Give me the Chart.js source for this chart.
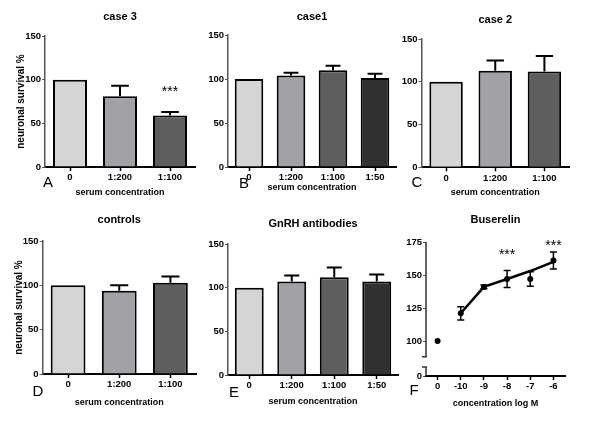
<!DOCTYPE html>
<html>
<head>
<meta charset="utf-8">
<script src="https://cdn.jsdelivr.net/npm/chart.js@4.4.1/dist/chart.umd.min.js"></script>
<style>
    html, body { margin: 0; padding: 0; background: #fff; }
    #fig { position: relative; width: 600px; height: 428px; overflow: hidden; }
    #fig canvas { position: absolute; }
</style>
</head>
<body>
<div id="fig">
    <canvas id="panelA"></canvas>
    <canvas id="panelB"></canvas>
    <canvas id="panelC"></canvas>
    <canvas id="panelD"></canvas>
    <canvas id="panelE"></canvas>
    <canvas id="panelF"></canvas>
</div>
<script>
// A - case 3
const caseThreeLabels = ["0", "1:200", "1:100"];
const caseThreeMeans = [100, 81, 59];
const caseThreeSem = [0, 12, 4];
const caseThreeStars = ["", "", "***"];

// B - case1
const caseOneLabels = ["0", "1:200", "1:100", "1:50"];
const caseOneMeans = [100, 104, 110, 101];
const caseOneSem = [0, 3, 5, 5];

// C - case 2
const caseTwoLabels = ["0", "1:200", "1:100"];
const caseTwoMeans = [100, 113, 112];
const caseTwoSem = [0, 12, 18];

// D - controls
const controlLabels = ["0", "1:200", "1:100"];
const controlMeans = [100, 94, 103];
const controlSem = [0, 6, 7];

// E - GnRH antibodies
const gnrhLabels = ["0", "1:200", "1:100", "1:50"];
const gnrhMeans = [100, 107, 112, 107];
const gnrhSem = [0, 7, 11, 8];

// F - Buserelin
const buserelinLabels = ["0", "-10", "-9", "-8", "-7", "-6"];
const buserelinMeans = [100, 121, 141, 147, 147, 161];
const buserelinSem = [0, 5, 1.5, 6.5, 5.5, 6.5];
const buserelinFit = [null, 121, 141, 147, 153, 160];
const buserelinStars = ["", "", "", "***", "", "***"];
const buserelinTicks = [0, 100, 125, 150, 175];

const barColors = ["#d5d5d5", "#a2a2a6", "#5e5e5e", "#303030"];
const plainFont = "'Liberation Sans', Arial, sans-serif";
const titleSize = 11;
const smallSize = 9.5;

const placeCanvas = (id, box) => {
    let canvas = document.getElementById(id);
    canvas.width = box.w;
    canvas.height = box.h;
    canvas.style.left = box.x + "px";
    canvas.style.top = box.y + "px";
    return canvas.getContext("2d");
};

// options that pin the chart area where the figure has it
const frameOptions = (p) => {
    const left = p.area.left - p.box.x;
    const right = p.area.right - p.box.x;
    const top = p.area.top - p.box.y;
    const bottom = p.area.bottom - p.box.y;
    const titleMid = p.titleY - p.box.y;
    const xTitleMid = p.xTitleY - p.box.y;
    const halfTitle = titleSize * 0.6;
    return {
        responsive: false,
        animation: false,
        events: [],
        layout: { padding: { left: 0, top: 0, right: p.box.w - right, bottom: 0 } },
        plugins: {
            legend: { display: false },
            tooltip: { enabled: false },
            title: {
                display: true,
                fullSize: false,
                text: p.title,
                color: "#000",
                font: { family: plainFont, size: titleSize, weight: "bold", lineHeight: 1.2 },
                padding: { top: titleMid - halfTitle, bottom: top - titleMid - halfTitle },
            },
        },
        scales: {
            x: {
                offset: true,
                afterFit: (s) => { s.height = p.box.h - bottom; },
                border: { color: "#000", width: 2 },
                grid: { offset: false, drawOnChartArea: false, color: "#000", tickLength: 4, tickWidth: 1.5 },
                ticks: {
                    color: "#000", padding: 1, autoSkip: false, maxRotation: 0,
                    font: { family: plainFont, size: smallSize, weight: "bold", lineHeight: 1.2 },
                },
                title: {
                    display: true,
                    text: p.xTitle,
                    color: "#000",
                    font: { family: plainFont, size: 9, weight: "bold", lineHeight: 1.2 },
                    padding: { top: 0, bottom: p.box.h - xTitleMid - 9 * 0.6 },
                },
            },
            y: {
                afterFit: (s) => { s.width = left; },
                border: { color: "#555", width: 1.5 },
                grid: { drawOnChartArea: false, color: "#555", tickLength: 3 },
                ticks: {
                    color: "#000", padding: 1,
                    font: { family: plainFont, size: smallSize, weight: "bold", lineHeight: 1.2 },
                },
                title: p.yTitle ? {
                    display: true,
                    text: p.yTitle,
                    color: "#000",
                    font: { family: plainFont, size: 10, weight: "bold", lineHeight: 1.2 },
                    padding: { top: p.yTitleX - p.box.x - 6, bottom: 0 },
                } : { display: false },
            },
        },
    };
};

const drawLetter = (chart, p) => {
    let ctx = chart.ctx;
    ctx.save();
    ctx.fillStyle = "#000";
    ctx.font = "15px " + plainFont;
    ctx.textAlign = "center";
    ctx.textBaseline = "middle";
    ctx.fillText(p.letter, p.letterAt[0] - p.box.x, p.letterAt[1] - p.box.y);
    ctx.restore();
};

const drawStars = (chart, points, tops, stars, gaps) => {
    let ctx = chart.ctx;
    ctx.save();
    ctx.fillStyle = "#000";
    ctx.font = "14px " + plainFont;
    ctx.textAlign = "center";
    ctx.textBaseline = "middle";
    stars.forEach((s, i) => {
        if (!s) return;
        const y = chart.scales.y.getPixelForValue(tops[i]) - gaps[i];
        ctx.fillText(s, points[i].x, y + 4);
    });
    ctx.restore();
};

const renderBarPanel = (p) => {
    let ctx = placeCanvas(p.id, p.box);
    let options = frameOptions(p);
    options.scales.y.min = 0;
    options.scales.y.max = 150;
    options.scales.y.ticks.stepSize = 50;

    let extras = {
        id: "extras" + p.id,
        afterDatasetsDraw: (chart) => {
            let c = chart.ctx;
            let yScale = chart.scales.y;
            let bars = chart.getDatasetMeta(0).data;
            c.save();
            c.strokeStyle = "#000";
            c.lineWidth = 2;
            bars.forEach((bar, i) => {
                if (!p.sem[i]) return;
                const yTop = yScale.getPixelForValue(p.means[i] + p.sem[i]);
                const half = bar.width * 0.26;
                c.beginPath();
                c.moveTo(bar.x, bar.y);
                c.lineTo(bar.x, yTop);
                c.moveTo(bar.x - half, yTop);
                c.lineTo(bar.x + half, yTop);
                c.stroke();
            });
            c.restore();
            if (p.stars) {
                let tops = p.means.map((m, i) => m + p.sem[i]);
                drawStars(chart, bars, tops, p.stars, p.starGaps);
            }
        },
        afterDraw: (chart) => drawLetter(chart, p),
    };

    let myChart = new Chart(ctx, {
        type: "bar",
        data: {
            labels: p.labels,
            datasets: [
                {
                    data: p.means,
                    backgroundColor: barColors.slice(0, p.labels.length),
                    borderColor: "#000",
                    borderWidth: 2,
                    barPercentage: 0.68,
                    categoryPercentage: 1,
                },
            ],
        },
        options: options,
        plugins: [extras],
    });
};

const renderDosePanel = (p) => {
    let ctx = placeCanvas(p.id, p.box);
    let options = frameOptions(p);
    const floor = p.axisFloor;
    options.scales.y.min = floor;
    options.scales.y.max = 175;
    options.scales.y.border = { display: false };
    options.scales.y.afterBuildTicks = (s) => {
        s.ticks = buserelinTicks.map((v) => ({ value: v === 0 ? floor : v }));
    };
    options.scales.y.ticks.callback = (v) => (v === floor ? "0" : String(v));

    let extras = {
        id: "extras" + p.id,
        beforeDatasetsDraw: (chart) => {
            // broken y axis
            let c = chart.ctx;
            let yScale = chart.scales.y;
            const x = chart.chartArea.left;
            const breakHigh = yScale.getPixelForValue(88);
            const breakLow = yScale.getPixelForValue(80.3);
            c.save();
            c.strokeStyle = "#333";
            c.lineWidth = 1.5;
            c.beginPath();
            c.moveTo(x, yScale.getPixelForValue(175));
            c.lineTo(x, breakHigh);
            c.moveTo(x - 4, breakHigh);
            c.lineTo(x + 1, breakHigh);
            c.moveTo(x - 4, breakLow);
            c.lineTo(x + 1, breakLow);
            c.moveTo(x, breakLow);
            c.lineTo(x, chart.chartArea.bottom);
            c.stroke();
            c.restore();
        },
        afterDatasetsDraw: (chart) => {
            let c = chart.ctx;
            let yScale = chart.scales.y;
            let pts = chart.getDatasetMeta(1).data;
            c.save();
            c.strokeStyle = "#000";
            c.lineWidth = 1.5;
            pts.forEach((pt, i) => {
                if (!p.sem[i]) return;
                const yHi = yScale.getPixelForValue(p.means[i] + p.sem[i]);
                const yLo = yScale.getPixelForValue(p.means[i] - p.sem[i]);
                c.beginPath();
                c.moveTo(pt.x, yHi);
                c.lineTo(pt.x, yLo);
                c.moveTo(pt.x - 3.5, yHi);
                c.lineTo(pt.x + 3.5, yHi);
                c.moveTo(pt.x - 3.5, yLo);
                c.lineTo(pt.x + 3.5, yLo);
                c.stroke();
            });
            c.restore();
            let tops = p.means.map((m, i) => m + p.sem[i]);
            drawStars(chart, pts, tops, p.stars, p.starGaps);
        },
        afterDraw: (chart) => drawLetter(chart, p),
    };

    let myChart = new Chart(ctx, {
        type: "line",
        data: {
            labels: p.labels,
            datasets: [
                {
                    data: p.fit,
                    borderColor: "#000",
                    borderWidth: 2.5,
                    pointRadius: 0,
                    fill: false,
                },
                {
                    data: p.means,
                    showLine: false,
                    pointRadius: 3,
                    pointBackgroundColor: "#000",
                    pointBorderWidth: 0,
                },
            ],
        },
        options: options,
        plugins: [extras],
    });
};

const survivalTitle = "neuronal survival %";
const serumTitle = "serum concentration";

renderBarPanel({
    id: "panelA", title: "case 3", letter: "A", letterAt: [48, 183],
    box: { x: 0, y: 0, w: 200, h: 205 },
    area: { left: 45, right: 195, top: 36, bottom: 167 },
    titleY: 16.5, xTitleY: 192.5, xTitle: serumTitle, yTitle: survivalTitle, yTitleX: 21,
    labels: caseThreeLabels, means: caseThreeMeans, sem: caseThreeSem,
    stars: caseThreeStars, starGaps: [0, 0, 24],
});

renderBarPanel({
    id: "panelB", title: "case1", letter: "B", letterAt: [244, 184],
    box: { x: 200, y: 0, w: 205, h: 205 },
    area: { left: 228, right: 396, top: 35, bottom: 167 },
    titleY: 17, xTitleY: 188, xTitle: serumTitle,
    labels: caseOneLabels, means: caseOneMeans, sem: caseOneSem,
});

renderBarPanel({
    id: "panelC", title: "case 2", letter: "C", letterAt: [417, 183],
    box: { x: 395, y: 0, w: 205, h: 205 },
    area: { left: 421.5, right: 569, top: 39, bottom: 167.3 },
    titleY: 20, xTitleY: 192.5, xTitle: serumTitle,
    labels: caseTwoLabels, means: caseTwoMeans, sem: caseTwoSem,
});

renderBarPanel({
    id: "panelD", title: "controls", letter: "D", letterAt: [38, 392],
    box: { x: 0, y: 205, w: 200, h: 210 },
    area: { left: 42.5, right: 196, top: 241, bottom: 374 },
    titleY: 220, xTitleY: 402.5, xTitle: serumTitle, yTitle: survivalTitle, yTitleX: 19,
    labels: controlLabels, means: controlMeans, sem: controlSem,
});

renderBarPanel({
    id: "panelE", title: "GnRH antibodies", letter: "E", letterAt: [234, 393],
    box: { x: 200, y: 205, w: 205, h: 210 },
    area: { left: 228, right: 398, top: 244, bottom: 375 },
    titleY: 224, xTitleY: 402, xTitle: serumTitle,
    labels: gnrhLabels, means: gnrhMeans, sem: gnrhSem,
});

renderDosePanel({
    id: "panelF", title: "Buserelin", letter: "F", letterAt: [414, 391],
    box: { x: 395, y: 205, w: 205, h: 210 },
    area: { left: 426, right: 565, top: 242, bottom: 376 },
    titleY: 220, xTitleY: 404, xTitle: "concentration log M",
    axisFloor: 73.5,
    labels: buserelinLabels, means: buserelinMeans, sem: buserelinSem, fit: buserelinFit,
    stars: buserelinStars, starGaps: [0, 0, 0, 19, 0, 10],
});
</script>
</body>
</html>
